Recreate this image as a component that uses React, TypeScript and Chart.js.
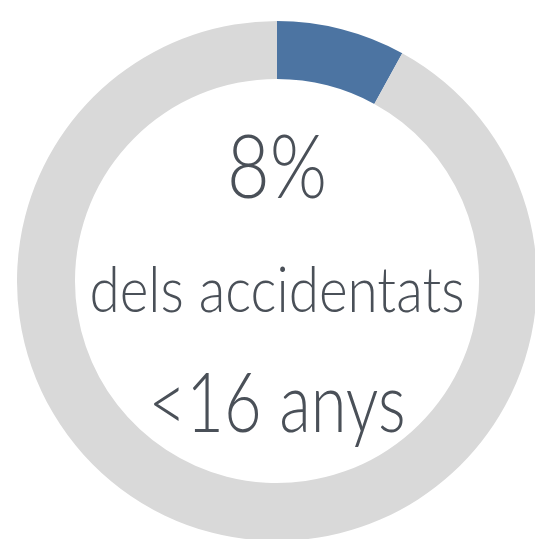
import React, { useEffect, useRef } from "react";
import { Chart, registerables } from "chart.js";

Chart.register(...registerables);

const labels = ["<16 anys", "Altres"];
const values = [8, 92];
const colors = ["#4C74A2", "#D9D9D9"];
const centerLines = ["8%", "dels accidentats", "<16 anys"];

const textColor = "#4A5058";
const FONT = "Lato, 'Open Sans', sans-serif";

const centerTextPlugin = {
  id: "centerText",
  afterDraw(chart: any) {
    const meta = chart.getDatasetMeta(0);
    const arc = meta.data[0];
    if (!arc) return;
    const { x, y } = arc;
    const ctx = chart.ctx;
    const specs = [
      { size: 88, dy: -82.7, w: 100 },
      { size: 64, dy: 31.3, w: 375 },
      { size: 82, dy: 151.3, w: 257 },
    ];
    centerLines.forEach((t, i) => {
      ctx.save();
      ctx.fillStyle = textColor;
      ctx.textAlign = "center";
      ctx.textBaseline = "alphabetic";
      ctx.font = `300 ${specs[i].size}px ${FONT}`;
      const m = ctx.measureText(t).width;
      const sx = Math.min(1, specs[i].w / m);
      ctx.translate(x, y + specs[i].dy);
      ctx.scale(sx, 1);
      ctx.fillText(t, 0, 0);
      ctx.restore();
    });
  },
};

export default function App() {
  const ref = useRef<HTMLCanvasElement | null>(null);
  useEffect(() => {
    if (!ref.current) return;
    const chart = new Chart(ref.current, {
      type: "doughnut",
      data: {
        labels,
        datasets: [
          {
            data: values,
            backgroundColor: colors,
            borderWidth: 0,
          },
        ],
      },
      options: {
        animation: false,
        responsive: true,
        maintainAspectRatio: false,
        cutout: "77.7%",
        layout: { padding: 0 },
        plugins: {
          legend: { display: false },
          tooltip: { enabled: false },
        },
      },
      plugins: [centerTextPlugin],
    });
    return () => chart.destroy();
  }, []);
  return (
    <div
      style={{
        position: "fixed",
        left: 0,
        top: 0,
        width: 535,
        height: 539,
        overflow: "hidden",
        background: "#fff",
      }}
    >
      <div
        style={{
          position: "absolute",
          left: 17.3,
          top: 20.7,
          width: 520,
          height: 520,
        }}
      >
        <canvas ref={ref} />
      </div>
    </div>
  );
}
